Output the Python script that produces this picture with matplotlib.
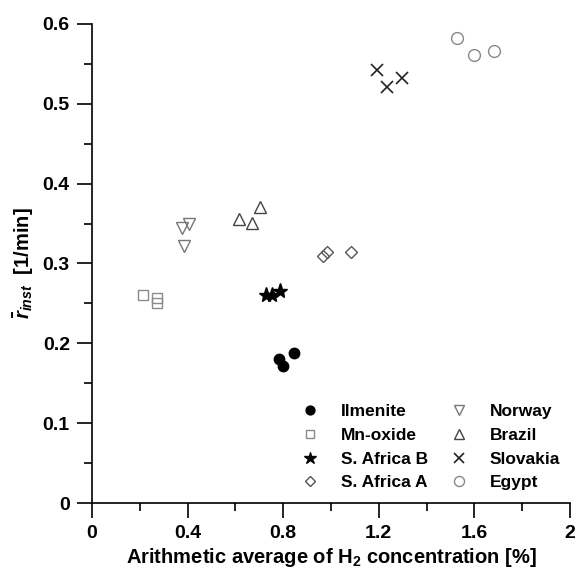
import numpy as np
import matplotlib
matplotlib.use("Agg")
import matplotlib.pyplot as plt
from matplotlib.ticker import MultipleLocator, FormatStrFormatter

ilmenite_x = [0.782, 0.800, 0.845]
ilmenite_y = [0.181, 0.171, 0.188]
mnoxide_x = [0.213, 0.272, 0.272]
mnoxide_y = [0.260, 0.257, 0.251]
safrica_b_x = [0.728, 0.753, 0.787]
safrica_b_y = [0.261, 0.261, 0.266]
safrica_a_x = [0.967, 0.983, 1.083]
safrica_a_y = [0.309, 0.314, 0.315]
norway_x = [0.376, 0.406, 0.386]
norway_y = [0.344, 0.349, 0.322]
brazil_x = [0.616, 0.668, 0.703]
brazil_y = [0.356, 0.351, 0.371]
slovakia_x = [1.192, 1.233, 1.296]
slovakia_y = [0.543, 0.521, 0.532]
egypt_x = [1.527, 1.598, 1.682]
egypt_y = [0.583, 0.561, 0.566]

plt.rcParams['font.family'] = ['Liberation Sans', 'DejaVu Sans']
plt.rcParams['font.weight'] = 'bold'
plt.rcParams['mathtext.fontset'] = 'custom'
plt.rcParams['mathtext.rm'] = 'Liberation Sans:bold'
plt.rcParams['mathtext.bf'] = 'Liberation Sans:bold'
plt.rcParams['mathtext.it'] = 'Liberation Sans:italic:bold'

fig = plt.figure(figsize=(5.77, 5.72), dpi=100)
ax = fig.add_axes([92 / 577, 69 / 572, 478 / 577, 479 / 572])

ax.plot(ilmenite_x, ilmenite_y, 'o', ms=7.5, color='black', label='Ilmenite', ls='none')
ax.plot(mnoxide_x, mnoxide_y, 's', ms=7, mfc='none', mec='#8a8a8a', mew=1.0, label='Mn-oxide', ls='none')
ax.plot(safrica_b_x, safrica_b_y, '*', ms=11, color='black', label='S. Africa B', ls='none')
ax.plot(safrica_a_x, safrica_a_y, 'D', ms=6, mfc='none', mec='#555555', mew=1.0, label='S. Africa A', ls='none')
ax.plot(norway_x, norway_y, 'v', ms=9, mfc='none', mec='#777777', mew=1.0, label='Norway', ls='none')
ax.plot(brazil_x, brazil_y, '^', ms=9, mfc='none', mec='#444444', mew=1.0, label='Brazil', ls='none')
ax.plot(slovakia_x, slovakia_y, 'x', ms=8.5, color='#222222', mew=1.2, label='Slovakia', ls='none')
ax.plot(egypt_x, egypt_y, 'o', ms=8.5, mfc='none', mec='#888888', mew=1.0, label='Egypt', ls='none')

ax.set_xlim(0, 2)
ax.set_ylim(0, 0.6)
ax.spines['top'].set_visible(False)
ax.spines['right'].set_visible(False)
for s in ['left', 'bottom']:
    ax.spines[s].set_linewidth(1.2)

ax.xaxis.set_major_locator(MultipleLocator(0.4))
ax.xaxis.set_minor_locator(MultipleLocator(0.2))
ax.yaxis.set_major_locator(MultipleLocator(0.1))
ax.yaxis.set_minor_locator(MultipleLocator(0.05))
ax.xaxis.set_major_formatter(FormatStrFormatter('%g'))
ax.yaxis.set_major_formatter(FormatStrFormatter('%g'))
ax.tick_params(which='major', direction='out', length=11, width=1.2, labelsize=14, pad=5)
ax.tick_params(which='minor', direction='out', length=6, width=1.2)

ax.set_xlabel('Arithmetic average of H$_\\mathrm{2}$ concentration [%]', fontsize=14.5, fontweight='bold', labelpad=3)
ax.set_ylabel('$\\bar{r}_{inst}$  [1/min]', fontsize=14.5, fontweight='bold', labelpad=5)

ax.legend(ncol=2, loc='lower right', bbox_to_anchor=(0.998, 0.008), frameon=False,
          fontsize=12.5, handletextpad=1.2, columnspacing=1.15, labelspacing=0.5,
          borderpad=0, handlelength=1.2, markerscale=0.85)

fig.savefig('out.png', dpi=100)
